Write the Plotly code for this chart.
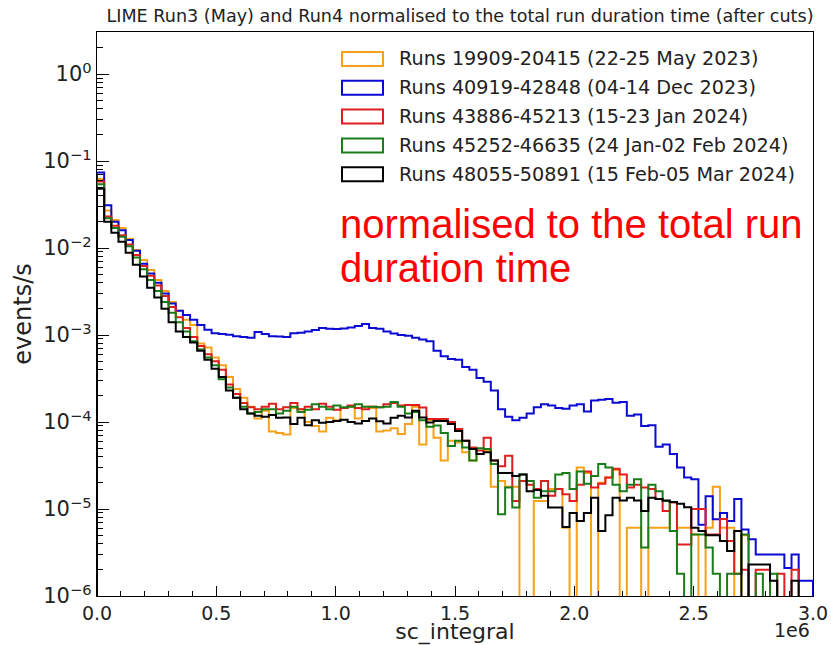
import plotly.graph_objects as go

# ---------------- data ----------------
BIN_WIDTH = 30000
N_BINS = 100
bin_edges = [i * BIN_WIDTH for i in range(N_BINS + 1)]

series_names = [
    "Runs 19909-20415 (22-25 May 2023)",
    "Runs 40919-42848 (04-14 Dec 2023)",
    "Runs 43886-45213 (15-23 Jan 2024)",
    "Runs 45252-46635 (24 Jan-02 Feb 2024)",
    "Runs 48055-50891 (15 Feb-05 Mar 2024)",
]
series_colors = ["#f7a11a", "#0a0ad2", "#e01e1e", "#1a7d1a", "#000000"]

orange_vals = [
    0.062, 0.027, 0.021, 0.017, 0.0128, 0.0095, 0.0073, 0.0056, 0.0043, 0.0032,
    0.0024, 0.0019, 0.0015, 0.0013, 0.0008, 0.00072, 0.00055, 0.00045, 0.00033, 0.00024,
    0.00019, 0.00015, 0.00011, 0.000135, 0.000078, 0.000075, 0.000072, 0.000145, 0.00014, 0.0001,
    0.00009, 0.000078, 0.000112, 0.000105, 0.000145, 0.00015, 0.00011, 0.00015, 0.000145, 0.000078,
    0.00008, 0.000085, 0.000073, 0.000095, 0.00015, 0.000055, 0.000105, 0.000066, 0.000036, 0.000061,
    0.000058, 0.000045, 0.000036, 0.000043, 0.000047, 0.000018, 0.000021, 0.000018, 0.000018, 0.0,
    0.0, 1.24e-5, 1.24e-5, 1.7e-5, 1.7e-5, 6.1e-6, 0.0, 3.0e-5, 2.6e-5, 0.0,
    2.0e-5, 2.3e-5, 2.8e-5, 0.0, 6.1e-6, 6.1e-6, 0.0, 6.1e-6, 6.1e-6, 6.1e-6,
    1.2e-5, 6.1e-6, 6.1e-6, 5.1e-6, 0.0, 6.1e-6, 1.8e-5, 6.1e-6, 6.1e-6, 0.0,
    5.0e-6, 0.0, 0.0, 0.0, 0.0, 0.0, 0.0, 0.0, 0.0, 0.0,
]

blue_vals = [
    0.074, 0.031, 0.020, 0.016, 0.0124, 0.0093, 0.0066, 0.0051, 0.0040, 0.0030,
    0.0023, 0.0019, 0.0017, 0.0015, 0.0013, 0.00115, 0.00105, 0.00103, 0.00101, 0.00097,
    0.00095, 0.00093, 0.00108, 0.00103, 0.00097, 0.00096, 0.00095, 0.00105, 0.00106, 0.0011,
    0.00114, 0.0012, 0.00118, 0.00117, 0.00119, 0.00122, 0.00127, 0.00134, 0.0012, 0.00118,
    0.0011, 0.00104, 0.001, 0.00098, 0.00093, 0.00089, 0.00085, 0.00066, 0.00057, 0.00053,
    0.00052, 0.00043, 0.0004, 0.00032, 0.00029, 0.00023, 0.00014, 0.000115, 0.000105, 0.000112,
    0.000125, 0.000148, 0.00016, 0.000155, 0.000145, 0.000142, 0.000155, 0.00016, 0.000132, 0.000177,
    0.00018, 0.000184, 0.000167, 0.00017, 0.000118, 0.000122, 0.00009, 0.000092, 0.000052, 0.000055,
    0.000043, 0.00003, 0.000023, 0.000022, 6.6e-6, 1.4e-5, 7.6e-6, 9.0e-6, 7.3e-6, 1.3e-5,
    5.8e-6, 4.5e-6, 3.0e-6, 3.0e-6, 3.0e-6, 3.0e-6, 2.1e-6, 3.0e-6, 1.5e-6, 1.5e-6,
]

red_vals = [
    0.058, 0.023, 0.018, 0.014, 0.011, 0.0083, 0.0062, 0.0048, 0.0037, 0.0028,
    0.0021, 0.0016, 0.0012, 0.00095, 0.00075, 0.0006, 0.0005, 0.0004, 0.00027, 0.00021,
    0.000165, 0.000148, 0.00014, 0.00015, 0.000162, 0.00014, 0.000148, 0.000165, 0.00014, 0.00015,
    0.00014, 0.000162, 0.00015, 0.000138, 0.000145, 0.000155, 0.000145, 0.00014, 0.00015, 0.000148,
    0.00016, 0.000165, 0.000155, 0.000157, 0.000157, 0.000147, 0.000108, 0.000108, 0.000108, 0.0001,
    0.000083, 0.000061, 0.000051, 0.000047, 0.000066, 0.000036, 0.000031, 0.000041, 1.24e-5, 2.1e-5,
    1.9e-5, 1.7e-5, 2.1e-5, 1.42e-5, 1.7e-5, 1.48e-5, 1.24e-5, 1.9e-5, 2.7e-5, 1.77e-5,
    1.95e-5, 2.3e-5, 2.9e-5, 2.5e-5, 1.77e-5, 1.9e-5, 1.77e-5, 1.7e-5, 1.3e-5, 9.5e-6,
    1.19e-5, 3.9e-6, 3.9e-6, 1.0e-5, 1.0e-5, 5.1e-6, 5.1e-6, 7.7e-6, 4.3e-6, 1.8e-6,
    2.0e-6, 0.0, 2.0e-6, 2.0e-6, 0.0, 1.8e-6, 0.0, 2.0e-6, 0.0, 0.0,
]

green_vals = [
    0.054, 0.022, 0.017, 0.0135, 0.0105, 0.0078, 0.0057, 0.0043, 0.0032, 0.0024,
    0.0018, 0.0014, 0.0011, 0.00085, 0.00068, 0.00055, 0.00045, 0.00031, 0.00025, 0.00019,
    0.00015, 0.000125, 0.00013, 0.00014, 0.00014, 0.000125, 0.000135, 0.00015, 0.00013, 0.000138,
    0.00016, 0.00015, 0.00014, 0.000155, 0.000148, 0.00015, 0.00016, 0.00015, 0.00015, 0.000148,
    0.00015, 0.00017, 0.00015, 0.000125, 0.00013, 0.000105, 0.000088, 0.000091, 0.000075, 0.000053,
    0.000061, 0.000051, 0.000036, 0.00005, 0.000049, 0.000033, 8.7e-6, 1.77e-5, 1.04e-5, 2.5e-5,
    2.1e-5, 1.35e-5, 1.6e-5, 1.6e-5, 2.5e-5, 2.6e-5, 1.7e-5, 2.7e-5, 1.95e-5, 2.4e-5,
    3.3e-5, 3.0e-5, 1.9e-5, 1.6e-5, 1.9e-5, 2.2e-5, 3.6e-6, 1.9e-5, 1.6e-5, 1.24e-5,
    5.6e-6, 1.8e-6, 0.0, 5.1e-6, 5.1e-6, 3.6e-6, 1.8e-6, 0.0, 1.8e-6, 1.8e-6,
    5.1e-6, 0.0, 1.8e-6, 0.0, 1.8e-6, 0.0, 0.0, 0.0, 0.0, 0.0,
]

black_vals = [
    0.048, 0.020, 0.015, 0.0118, 0.0088, 0.0064, 0.0047, 0.0035, 0.0027, 0.0020,
    0.0014, 0.0011, 0.00095, 0.00082, 0.00066, 0.00052, 0.00041, 0.00033, 0.00023, 0.00019,
    0.00014, 0.000125, 0.000118, 0.000115, 0.00012, 0.000112, 0.000113, 0.000095, 0.000112, 0.000092,
    0.000105, 0.000098, 0.0001, 0.000103, 0.000106, 0.0001, 0.000096, 0.000103, 0.00011, 0.000102,
    0.000096, 0.000112, 0.000118, 0.000113, 0.000135, 0.000113, 0.000099, 0.000103, 0.000103, 0.000095,
    0.000079, 0.000061, 0.000049, 0.000043, 0.000045, 0.000036, 0.000026, 0.000026, 0.000024, 2.5e-5,
    1.6e-5, 1.65e-5, 1.42e-5, 1.04e-5, 1.04e-5, 6.2e-6, 9.0e-6, 7.3e-6, 9.0e-6, 1.35e-5,
    5.6e-6, 8.5e-6, 1.35e-5, 1.25e-5, 1.35e-5, 1.25e-5, 9.5e-6, 1.35e-5, 1.3e-5, 1.25e-5,
    1.2e-5, 1.15e-5, 1.05e-5, 6.1e-6, 5.6e-6, 5.0e-6, 5.0e-6, 4.3e-6, 3.3e-6, 5.6e-6,
    0.0, 2.3e-6, 2.3e-6, 2.3e-6, 1.5e-6, 0.0, 0.0, 1.5e-6, 0.0, 0.0,
]

all_vals = [orange_vals, blue_vals, red_vals, green_vals, black_vals]

x_tick_vals = [0, 500000, 1000000, 1500000, 2000000, 2500000, 3000000]
x_tick_text = ["0.0", "0.5", "1.0", "1.5", "2.0", "2.5", "3.0"]
y_exponents = [-6, -5, -4, -3, -2, -1, 0]

# ---------------- figure ----------------
W, H = 831, 645
ML, MR, MT, MB = 97, 18, 32, 49
PW, PH = W - ML - MR, H - MT - MB
Y_LOG_MIN, Y_LOG_MAX = -6.0, 0.483
FLOOR = 1e-9  # empty bins drawn below the axis (clipped), like a step histogram

def px_to_paper_x(px):
    return (px - ML) / PW

def px_to_paper_y(py):
    return (H - MB - py) / PH

fig = go.Figure()
for name, color, vals in zip(series_names, series_colors, all_vals):
    yv = [v if v > 0 else FLOOR for v in vals]
    xs = [bin_edges[0]] + bin_edges + [bin_edges[-1]]
    ys = [FLOOR] + yv + [yv[-1], FLOOR]
    fig.add_trace(go.Scatter(
        x=xs, y=ys, mode="lines", name=name,
        line=dict(color=color, width=2, shape="hv"),
        showlegend=False, hoverinfo="skip",
    ))

# legend drawn as outlined boxes (matplotlib step-patch style)
FONT = "DejaVu Sans"
row0, dy = 59.0, 28.8
for i, (name, color) in enumerate(zip(series_names, series_colors)):
    cy = row0 + i * dy
    fig.add_shape(type="rect", xref="paper", yref="paper",
                  x0=px_to_paper_x(342), x1=px_to_paper_x(383),
                  y0=px_to_paper_y(cy + 7), y1=px_to_paper_y(cy - 7),
                  line=dict(color=color, width=2), fillcolor="white")
    fig.add_annotation(xref="paper", yref="paper", x=px_to_paper_x(397), y=px_to_paper_y(cy),
                       xanchor="left", yanchor="middle", text=name, showarrow=False,
                       font=dict(family=FONT, size=19.2, color="#222222"))

# red remark
RED_FONT = dict(family="Liberation Sans, Arial", size=40, color="#ff0000")
fig.add_annotation(xref="paper", yref="paper", x=px_to_paper_x(338), y=px_to_paper_y(224),
                   xanchor="left", yanchor="middle", text="normalised to the total run",
                   showarrow=False, font=RED_FONT)
fig.add_annotation(xref="paper", yref="paper", x=px_to_paper_x(338), y=px_to_paper_y(268),
                   xanchor="left", yanchor="middle", text="duration time",
                   showarrow=False, font=RED_FONT)

# offset text of x axis
fig.add_annotation(xref="paper", yref="paper", x=px_to_paper_x(812), y=px_to_paper_y(630),
                   xanchor="right", yanchor="middle", text="1e6", showarrow=False,
                   font=dict(family=FONT, size=19, color="#222222"))

y_minor = []
for e in range(-6, 1):
    for m in range(2, 10):
        v = m * 10 ** e
        if v < 10 ** Y_LOG_MAX:
            y_minor.append(v)
x_minor = [i * 100000 for i in range(31) if i % 5 != 0]

fig.update_layout(
    width=W, height=H,
    margin=dict(l=ML, r=MR, t=MT, b=MB, autoexpand=False),
    paper_bgcolor="white", plot_bgcolor="white",
    font=dict(family=FONT, size=19, color="#222222"),
    title=dict(text="LIME Run3 (May) and Run4 normalised to the total run duration time (after cuts)",
               x=460 / W, xanchor="center", xref="container",
               y=1 - 16 / H, yanchor="middle", yref="container",
               font=dict(family=FONT, size=17.6, color="#222222")),
    xaxis=dict(
        range=[0, 3000000], tickvals=x_tick_vals, ticktext=x_tick_text,
        ticks="inside", ticklen=10, tickwidth=1.2, tickcolor="black",
        showline=True, linecolor="black", linewidth=1.3, mirror=True,
        showgrid=False, zeroline=False, automargin=False,
        tickfont=dict(size=19),
        title=dict(text="sc_integral", font=dict(size=22), standoff=7),
        minor=dict(tickvals=x_minor, ticks="inside", ticklen=5, tickwidth=1, tickcolor="black"),
    ),
    yaxis=dict(
        type="log", range=[Y_LOG_MIN, Y_LOG_MAX],
        tickvals=[10 ** e for e in y_exponents],
        ticktext=["10<sup>\u2212%d</sup>" % (-e) if e < 0 else "10<sup>0</sup>" for e in y_exponents],
        ticks="inside", ticklen=12, tickwidth=1.2, tickcolor="black",
        showline=True, linecolor="black", linewidth=1.3, mirror=True,
        showgrid=False, zeroline=False, automargin=False,
        tickfont=dict(size=21),
        title=dict(text="events/s", font=dict(size=24), standoff=4),
        minor=dict(tickvals=y_minor, ticks="inside", ticklen=6, tickwidth=1, tickcolor="black"),
    ),
)

# the default page has an 8px body margin; remove it so the figure sits at the page origin
fig.write_html("out.html", config={"displayModeBar": False},
               post_script="document.body.style.margin='0px';")
